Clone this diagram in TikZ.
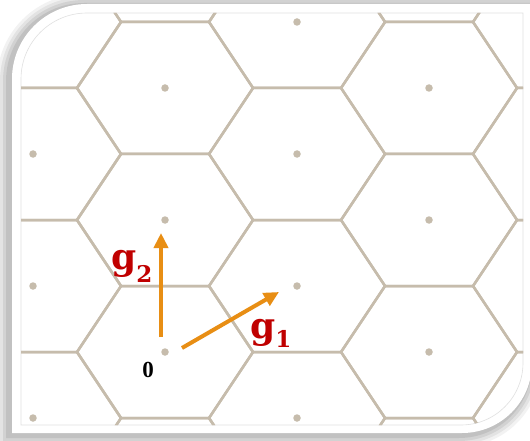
\documentclass[tikz,border=0pt]{standalone}
\usepackage{fontspec}
\setmainfont{Liberation Serif}
\newfontfamily\labfont{DejaVu Serif}
\usetikzlibrary{arrows.meta}
\definecolor{gridc}{RGB}{198,188,172}
\definecolor{arrc}{RGB}{232,142,20}
\definecolor{labc}{RGB}{192,0,0}
\begin{document}
\begin{tikzpicture}[x=1pt,y=-1pt,
  hexline/.style={draw=gridc,line width=2.5pt,line join=round},
  latdot/.style={circle,fill=gridc,inner sep=0pt,minimum size=7.5pt},
  vecarrow/.style={draw=arrc,line width=4pt,-{Triangle[length=15pt,width=14pt]}},
  veclabel/.style={text=labc,font=\labfont\bfseries\fontsize{36}{36}\selectfont,inner sep=0pt,anchor=base west},
  originlabel/.style={font=\bfseries\fontsize{23}{23}\selectfont,inner sep=0pt,anchor=base}
]
\useasboundingbox (0,0) rectangle (530,441);
\fill[white] (0,0) rectangle (530,441);
\def\framepath{(12,79) .. controls (12,37.6) and (45.6,4) .. (87,4) -- (532,4) -- (532,363) .. controls (532,401.7) and (500.7,433) .. (462,433) -- (12,433) -- cycle}
\def\innerpath{(21,79) .. controls (21,42.5) and (50.5,13) .. (87,13) -- (523,13) -- (523,363) .. controls (523,397.2) and (495.2,425) .. (461,425) -- (21,425) -- cycle}
% shadow
\foreach \w/\o in {24/0.05,18/0.06,12/0.07,6/0.08}
  \draw[line width=\w pt, black, opacity=\o, shift={(-3,2)}] \framepath;
\fill[white] \framepath;
\draw[black!12, line width=0.6pt] \innerpath;
% lattice
\begin{scope}
  \clip \innerpath;
  \foreach \i in {0,...,5} {
    \foreach \j in {-1,...,3} {
      \pgfmathsetmacro\cx{33+132*(\i-1)}
      \pgfmathsetmacro\cy{22+66*(1-mod(\i,2))+132*\j}
      \draw[hexline] (\cx+88,\cy) -- (\cx+44,\cy+66) -- (\cx-44,\cy+66) -- (\cx-88,\cy) -- (\cx-44,\cy-66) -- (\cx+44,\cy-66) -- cycle;
      \node[latdot] (p-\i-\j) at (\cx,\cy) {};
    }
  }
\end{scope}
% vectors
\coordinate (g2s) at (161,337);
\coordinate (g2e) at (161,233);
\coordinate (g1s) at (182,348);
\coordinate (g1e) at (279,292);
\draw[vecarrow] (g2s) -- (g2e);
\draw[vecarrow] (g1s) -- (g1e);
\node[veclabel] (lg2) at (111,269) {g\raisebox{-13pt}{\fontsize{23}{23}\selectfont 2}};
\node[veclabel] (lg1) at (250,338) {g\raisebox{-9pt}{\fontsize{23}{23}\selectfont 1}};
\node[originlabel] (l0) at (148,377) {0};
\end{tikzpicture}
\end{document}
